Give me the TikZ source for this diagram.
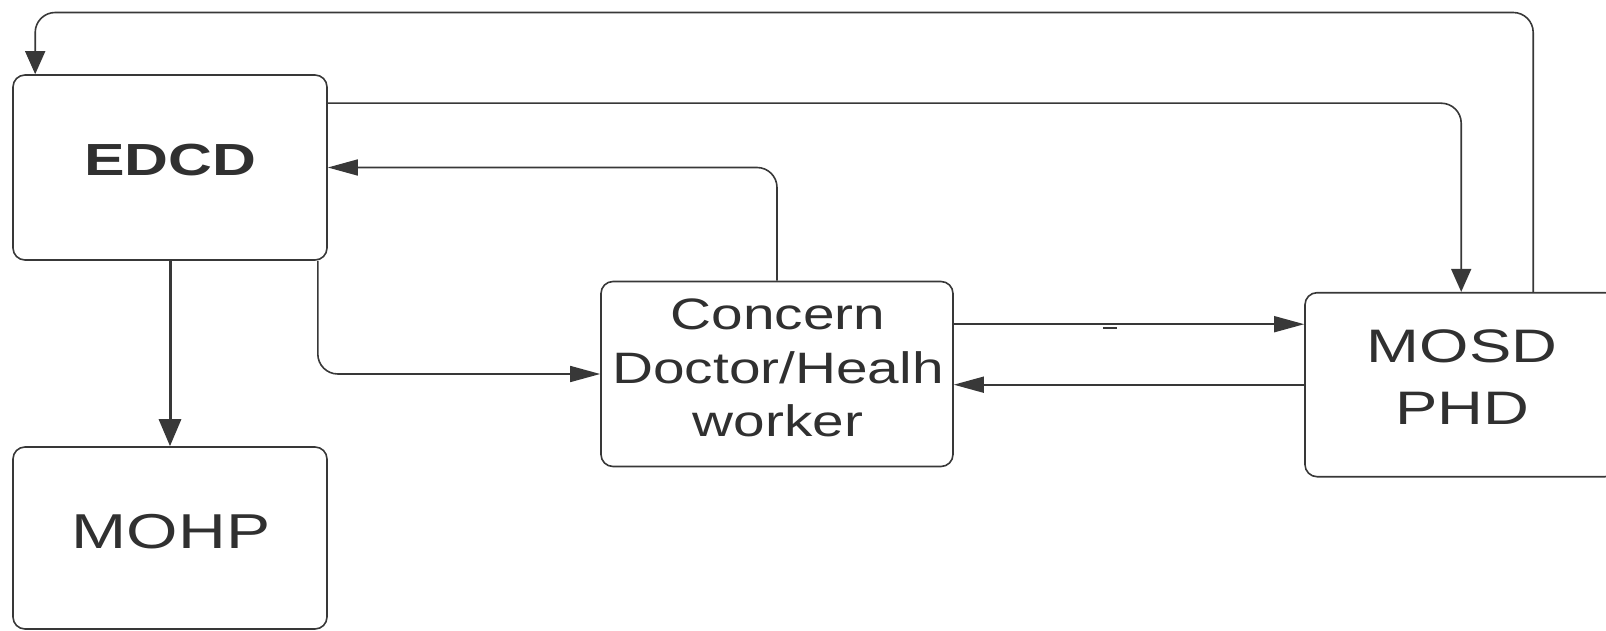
\documentclass[tikz,border=0pt]{standalone}
\usepackage{fontspec}
\setmainfont{Liberation Sans}
\usetikzlibrary{arrows.meta,calc}
\definecolor{ink}{HTML}{303030}
\definecolor{wire}{HTML}{383838}
\newcommand\stretchx[1]{\scalebox{1.35}[1]{#1}}
\newcommand\stretchc[1]{\scalebox{1.29}[1]{#1}}
\begin{document}
\begin{tikzpicture}[x=1pt,y=-1pt,
  box/.style={draw=wire, line width=1.6pt, rounded corners=12pt, rectangle, inner sep=0pt},
  lbl/.style={text=ink, inner sep=0pt, align=center},
  conn/.style={draw=wire, line width=1.6pt, rounded corners=20pt},
  harr/.style={-{Triangle[length=30pt,width=16pt]}},
  varr/.style={-{Triangle[length=23pt,width=20pt]}},
  ]
\useasboundingbox (0,0) rectangle (1606,631);
% boxes
\node[box, minimum width=314pt, minimum height=185pt] (EDCD) at (170,167.5) {};
\node[box, minimum width=314pt, minimum height=182pt] (MOHP) at (170,538) {};
\node[box, minimum width=352pt, minimum height=185pt] (CDH) at (777,374) {};
\node[box, minimum width=312pt, minimum height=184pt] (MOSD) at (1461,384.7) {};
% labels
\node[lbl, font=\fontsize{45}{50}\selectfont\bfseries] (EDCDt) at (170.5,160) {\stretchx{EDCD}};
\node[lbl, font=\fontsize{49}{54}\selectfont] (MOHPt) at (171,532) {\stretchx{MOHP}};
\node[lbl, font=\fontsize{44}{53.5}\selectfont] (CDHt) at (778,368) {\stretchc{Concern}\\\stretchc{Doctor/Healh}\\\stretchc{worker}};
\node[lbl, font=\fontsize{47}{62}\selectfont] (MOSDt) at (1462,377.5) {\stretchx{MOSD}\\\stretchx{PHD}};
% connectors
\coordinate (topline) at (800,12.5);
\draw[conn, varr] ([xshift=229pt]MOSD.north west) |- (topline) -| ([xshift=23pt]EDCD.north west);
\draw[conn, varr] ([yshift=-29pt]EDCD.north east) -| ([xshift=157pt]MOSD.north west);
\draw[conn, harr] (CDH.north) |- (EDCD.east);
\draw[conn, harr] ([xshift=-10pt]EDCD.south east) |- (CDH.west);
\draw[draw=wire, line width=3pt, -{Triangle[length=27pt,width=22pt]}] (EDCD.south) -- (MOHP.north);
\coordinate (c6) at ([yshift=-43.5pt]CDH.north east);
\draw[conn, harr] (c6) -- (c6 -| MOSD.west);
\draw[conn, harr] (MOSD.west) -- (MOSD.west -| CDH.east);
\draw[draw=wire, line width=2pt] (1103,327.5) -- (1117,327.5);
\end{tikzpicture}
\end{document}
